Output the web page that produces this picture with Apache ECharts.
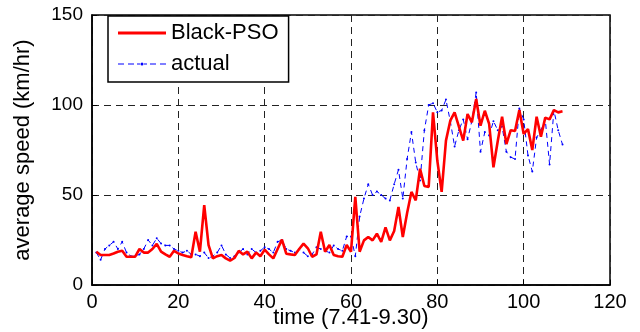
<!DOCTYPE html>
<html>
<head>
<meta charset="utf-8">
<script src="https://cdn.jsdelivr.net/npm/echarts@6/dist/echarts.min.js"></script>
<style>
  html, body {margin: 0; padding: 0; background: #fff;}
  #chart {width: 640px; height: 332px;}
</style>
</head>
<body>
<div id="chart"></div>
<script>
// 刻度
const xTicks = [0, 20, 40, 60, 80, 100, 120]
const yTicks = [0, 50, 100, 150]

// Black-PSO 预测值（时间点 1..109）
const blackPso = [
  18.5, 16.7, 16.7, 16.7, 17.5, 18.5, 19, 15.7, 15.7, 15.7,
  20, 18, 18, 20, 22.8, 18.5, 17, 15.7, 19, 17.5,
  16.7, 16, 15.4, 29.6, 18.5, 44.4, 22.2, 14.8, 16, 16.7,
  14.8, 13.5, 15, 19, 17, 18.5, 14.8, 18, 16, 19.6,
  17, 14.8, 20, 25.2, 17.4, 17, 16.7, 20, 23, 20.4,
  15.7, 17, 29.6, 18.5, 22.2, 16.7, 16, 15.7, 22.2, 18.5,
  49, 18.5, 24.8, 26.7, 24.8, 28.5, 23.9, 32, 24.8, 30,
  43.3, 26.7, 40, 51.7, 47, 64.6, 55, 54.5, 95.9, 69,
  51.7, 80.2, 91.3, 95.9, 88, 80.2, 95, 90.4, 103.3, 88.5,
  96.8, 89.5, 65.4, 80, 93.5, 78.3, 86, 85.6, 97.2, 83.9,
  86.6, 75, 93.5, 82.4, 93, 92, 97.2, 95.9, 96.5,
]

// 实测值
const actual = [
  18, 14, 20, 22, 24, 20, 24, 18, 16, 16,
  17, 20, 25, 22, 26, 23, 22, 22, 20, 19,
  18, 19, 17, 17, 16, 18, 15, 16, 18, 22,
  17, 15, 16, 18, 20, 17, 20, 18, 19, 21,
  20, 18, 24, 25, 20, 19, 18, 20, 18, 16,
  17, 21, 20, 19, 18, 22, 20, 19, 27, 27,
  16, 38, 48, 56, 50, 52, 50, 48, 47, 56,
  64, 48, 70, 85, 68, 58, 86, 100, 101, 96,
  97, 103, 91, 77, 86, 92, 81, 91, 107, 74,
  85, 83, 91, 86, 88, 74, 71, 70, 98, 92,
  72, 63, 82, 86, 92, 67, 97, 86, 78,
]

const font = 'Liberation Sans, Arial, Helvetica, sans-serif'
const toPairs = (arr) => arr.map((v, i) => [i + 1, v])

// 图例图标：实线 / 虚线加圆点（48x3）
const solidIcon = 'path://M0 0h48v3h-48z'
const dashDotIcon = 'path://M0 1h6v1h-6z M10 1h6v1h-6z M19 1h3v1h-3z M26 1h3v1h-3z ' +
  'M32 1h6v1h-6z M42 1h6v1h-6z M22.5 1.5a1.5 1.5 0 1 0 3 0a1.5 1.5 0 1 0 -3 0z'

const myChart = echarts.init(document.getElementById('chart'))

const options = {
  animation: false,
  backgroundColor: '#fff',
  textStyle: {fontFamily: font, color: '#000'},
  grid: {
    left: 92, right: 30, top: 15, bottom: 47,
    outerBoundsMode: 'none',
    containLabel: false,
    show: true, borderColor: '#000', borderWidth: 1.5,
  },
  legend: {
    orient: 'vertical',
    left: 108, top: 16,
    padding: [6, 10, 7, 10],
    itemWidth: 48, itemHeight: 3, itemGap: 9,
    borderColor: '#000', borderWidth: 1.5,
    backgroundColor: '#fff',
    textStyle: {fontSize: 22, color: '#000', fontFamily: font},
    data: [
      {name: 'Black-PSO', icon: solidIcon},
      {name: 'actual', icon: dashDotIcon},
    ],
  },
  xAxis: {
    type: 'value',
    min: xTicks[0], max: xTicks[xTicks.length - 1], interval: 20,
    name: 'time (7.41-9.30)',
    nameLocation: 'middle', nameGap: 22,
    nameMoveOverlap: false,
    nameTextStyle: {fontSize: 22, color: '#000', fontFamily: font},
    axisLine: {lineStyle: {color: '#000', width: 1.5}},
    axisTick: {inside: true, length: 5, lineStyle: {color: '#000'}},
    axisLabel: {fontSize: 20, color: '#000', margin: 7, fontFamily: font},
    splitLine: {lineStyle: {color: '#222', type: [7, 5], width: 1}},
  },
  yAxis: {
    type: 'value',
    min: yTicks[0], max: yTicks[yTicks.length - 1], interval: 50,
    name: 'average speed (km/hr)',
    nameLocation: 'middle', nameGap: 58,
    nameMoveOverlap: false,
    nameTextStyle: {fontSize: 22, color: '#000', fontFamily: font},
    axisLine: {lineStyle: {color: '#000', width: 1.5}},
    axisTick: {inside: true, length: 5, lineStyle: {color: '#000'}},
    axisLabel: {fontSize: 19, color: '#000', margin: 9, fontFamily: font},
    splitLine: {lineStyle: {color: '#222', type: [7, 5], width: 1}},
  },
  series: [
    {
      name: 'Black-PSO',
      type: 'line',
      data: toPairs(blackPso),
      symbol: 'none',
      color: '#ff0000',
      lineStyle: {color: '#ff0000', width: 2.6},
      z: 3,
    },
    {
      name: 'actual',
      type: 'line',
      data: toPairs(actual),
      symbol: 'circle',
      symbolSize: 2,
      color: '#0000ff',
      itemStyle: {color: '#0000ff'},
      lineStyle: {color: '#0000ff', width: 1, type: [5, 4]},
      z: 2,
    },
  ],
}

myChart.setOption(options)
</script>
</body>
</html>
